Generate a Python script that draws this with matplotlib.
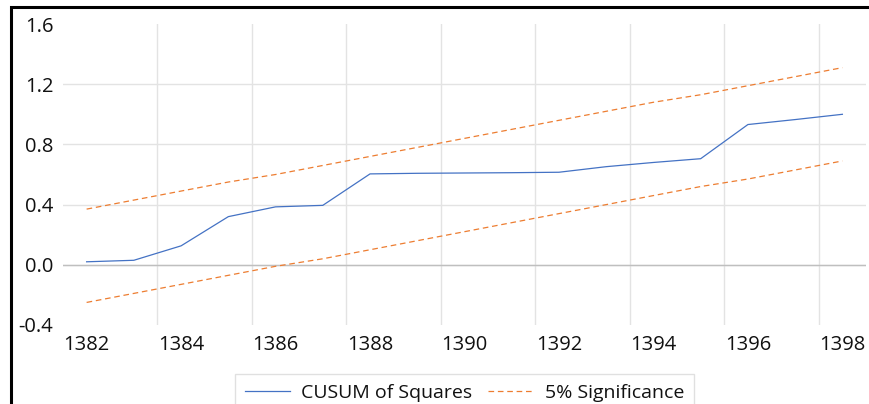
import numpy as np
import matplotlib.pyplot as plt
from matplotlib.patches import Rectangle

plt.rcParams['font.family'] = ['Open Sans', 'DejaVu Sans']

# Datos
years = list(range(1382, 1399))
cusum_sq = [0.02, 0.03, 0.126, 0.32, 0.385, 0.395, 0.604, 0.608, 0.61, 0.612, 0.615,
            0.652, 0.68, 0.705, 0.932, 0.965, 1.0]
upper_5 = [0.37, 0.43, 0.49, 0.55, 0.60, 0.66, 0.72, 0.78, 0.84, 0.90, 0.96,
           1.02, 1.08, 1.13, 1.19, 1.25, 1.31]
lower_5 = [-0.25, -0.19, -0.13, -0.07, -0.01, 0.04, 0.10, 0.16, 0.22, 0.28, 0.34,
           0.40, 0.46, 0.52, 0.57, 0.63, 0.69]
y_ticks = [-0.4, 0.0, 0.4, 0.8, 1.2, 1.6]
x_labels = years[::2]

blue = '#4472C4'
orange = '#ED7D31'
grid_col = '#E3E3E3'

fig = plt.figure(figsize=(8.7, 4.04), dpi=100)
ax = fig.add_axes([63 / 870, 1 - 325 / 404, (866 - 63) / 870, (325 - 24) / 404])

ax.plot(years, cusum_sq, color=blue, lw=0.9, label='CUSUM of Squares', zorder=3)
ax.plot(years, upper_5, color=orange, lw=0.9, ls=(0, (4.5, 3)),
        label='5% Significance', zorder=3)
ax.plot(years, lower_5, color=orange, lw=0.9, ls=(0, (4.5, 3)), zorder=3)
ax.axhline(0, color='#BFBFBF', lw=1.0, zorder=2)

ax.set_xlim(years[0] - 0.5, years[-1] + 0.5)
ax.set_ylim(y_ticks[0], y_ticks[-1])
ax.set_yticks(y_ticks)
ax.set_yticklabels([f'{v:.1f}' for v in y_ticks])
ax.set_xticks(x_labels)
ax.set_xticklabels([str(v) for v in x_labels])
ax.set_xticks([y + 1.5 for y in x_labels[:-1]], minor=True)

ax.grid(axis='y', which='major', color=grid_col, lw=1.0, zorder=1)
ax.grid(axis='x', which='minor', color=grid_col, lw=1.0, zorder=1)
ax.yaxis.get_gridlines()[0].set_visible(False)
ax.yaxis.get_gridlines()[-1].set_visible(False)
ax.tick_params(axis='both', which='both', length=0, labelsize=14.5, colors='#111111')
ax.tick_params(axis='x', pad=7)
ax.tick_params(axis='y', pad=7)
for s in ax.spines.values():
    s.set_visible(False)

leg = ax.legend(loc='upper center', bbox_to_anchor=(464.5 / 870, 1 - 374 / 404),
                bbox_transform=fig.transFigure, ncol=2, fontsize=14, frameon=True,
                fancybox=False, edgecolor='#D9D9D9', handlelength=2.3,
                handletextpad=0.6, columnspacing=0.8, borderpad=0.5, borderaxespad=0)
leg.get_frame().set_linewidth(1.0)
for t in leg.get_texts():
    t.set_color('#111111')

# marco negro exterior
fig.patches.append(Rectangle((11.5 / 870, -0.1), 1.0, 1.1 - 7.5 / 404,
                             transform=fig.transFigure, fill=False,
                             edgecolor='black', lw=2.2, zorder=10))

fig.savefig('out.png', dpi=100)
